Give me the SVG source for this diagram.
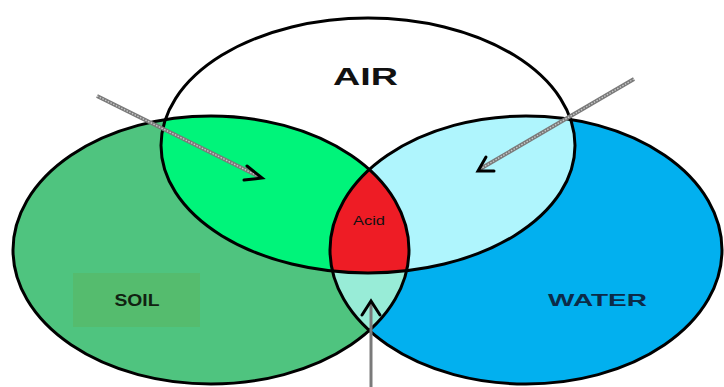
<svg xmlns="http://www.w3.org/2000/svg" width="724" height="387" viewBox="0 0 724 387">
<style>
.outline{fill:none;stroke:#000;stroke-width:3}
.lbl{font-family:"Liberation Sans",Arial,sans-serif;font-weight:bold}
.shaft{stroke:#7a7a7a;stroke-width:4;fill:none}
.shaftin{stroke:#c8c8c8;stroke-width:1.4;stroke-dasharray:1.5 1.5;fill:none}
.head{stroke:#000;stroke-width:3;fill:none;stroke-linecap:round;stroke-linejoin:miter}
</style>
<defs>
<ellipse id="soilE" cx="211" cy="250" rx="198" ry="134"/>
<ellipse id="waterE" cx="526" cy="250" rx="196" ry="134"/>
<ellipse id="airE" cx="368" cy="145.5" rx="207" ry="127.5"/>
<clipPath id="cSoil"><use href="#soilE"/></clipPath>
<clipPath id="cAir"><use href="#airE"/></clipPath>
</defs>
<rect width="724" height="387" fill="#fff"/>
<g id="soil">
<use href="#soilE" fill="#4fc47f"/>
</g>
<g id="water">
<use href="#waterE" fill="#02b0ef"/>
<use href="#waterE" fill="#98ecd7" clip-path="url(#cSoil)"/>
</g>
<g id="air">
<use href="#airE" fill="#fff"/>
<g clip-path="url(#cAir)">
<use href="#soilE" fill="#00f47a"/>
<use href="#waterE" fill="#aff5fd"/>
<use href="#waterE" fill="#ee1c25" clip-path="url(#cSoil)"/>
</g>
</g>
<g id="outlines">
<use href="#soilE" class="outline"/>
<use href="#waterE" class="outline"/>
<use href="#airE" class="outline"/>
</g>
<g id="soil-label">
<rect x="73" y="273" width="127" height="54" fill="#55bc6e"/>
<text x="137" y="306" class="lbl" font-size="17" fill="#112211" text-anchor="middle" textLength="45" lengthAdjust="spacingAndGlyphs">SOIL</text>
</g>
<g id="water-label">
<text x="548" y="306" class="lbl" font-size="17" fill="#0c2b48" textLength="99" lengthAdjust="spacingAndGlyphs">WATER</text>
</g>
<g id="air-label">
<text x="333" y="85" class="lbl" font-size="24" fill="#111" textLength="65" lengthAdjust="spacingAndGlyphs">AIR</text>
</g>
<g id="acid-label">
<text x="353" y="225" font-family="'Liberation Sans',Arial,sans-serif" font-size="13" fill="#111" textLength="32" lengthAdjust="spacingAndGlyphs">Acid</text>
</g>
<g id="connectors">
<line x1="97" y1="96" x2="260" y2="177" class="shaft"/>
<line x1="97" y1="96" x2="260" y2="177" class="shaftin"/>
<polyline points="247,166 262,178 244,180" class="head"/>
<line x1="634" y1="79" x2="480" y2="169" class="shaft"/>
<line x1="634" y1="79" x2="480" y2="169" class="shaftin"/>
<polyline points="486,157 478,171 494,171" class="head"/>
<line x1="371" y1="387" x2="371" y2="302" stroke="#7a7a7a" stroke-width="3"/>
<polyline points="362,315 371,301 380,315" class="head"/>
</g>
</svg>
